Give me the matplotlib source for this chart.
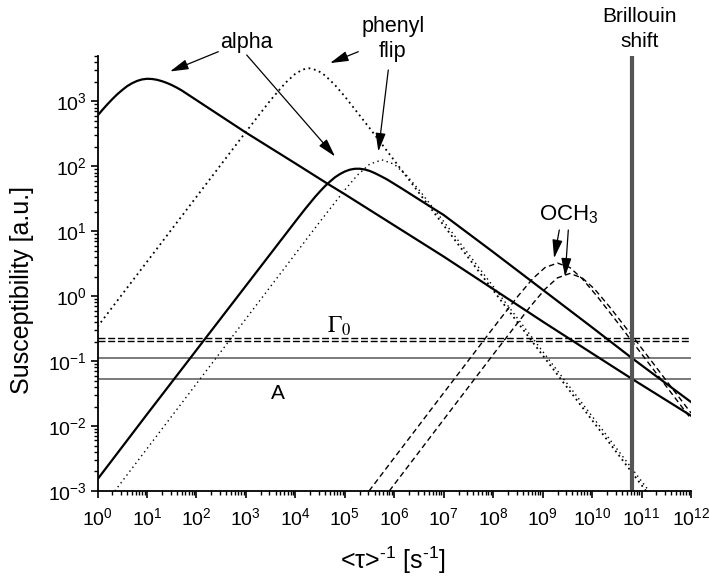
import matplotlib
matplotlib.use("Agg")
import matplotlib.pyplot as plt
import numpy as np
from matplotlib.ticker import LogLocator, NullFormatter

plt.rcParams['font.family'] = ['Liberation Sans', 'DejaVu Sans']
plt.rcParams['mathtext.fontset'] = 'custom'
plt.rcParams['mathtext.rm'] = 'Liberation Sans'
plt.rcParams['mathtext.it'] = 'Liberation Sans:italic'
plt.rcParams['mathtext.bf'] = 'Liberation Sans:bold'

# curves, as log10(rate) / log10(susceptibility)
alpha1_lx = [0, 0.1, 0.2, 0.3, 0.4, 0.5, 0.6, 0.7, 0.8, 0.9, 1.0, 1.1, 1.2, 1.3, 1.4, 1.5, 1.6, 1.7, 1.85, 2.0, 2.15, 2.31, 2.6, 3.0, 4.0, 4.635, 5, 6, 7, 8, 9, 10, 10.8, 12]
alpha1_ly = [2.78, 2.87, 2.955, 3.035, 3.11, 3.175, 3.235, 3.28, 3.315, 3.338, 3.348, 3.345, 3.333, 3.312, 3.285, 3.252, 3.213, 3.170, 3.095, 3.02, 2.945, 2.865, 2.72, 2.52, 2.045, 1.74, 1.57, 1.09, 0.61, 0.11, -0.39, -0.88, -1.27, -1.84]

alpha2_lx = [0, 1, 2, 3, 4.0, 4.2, 4.4, 4.5, 4.6, 4.7, 4.8, 4.9, 5.0, 5.1, 5.2, 5.3, 5.4, 5.5, 5.6, 5.7, 5.85, 6.0, 6.18, 6.5, 6.79, 7.0, 8, 9, 10, 10.8, 12]
alpha2_ly = [-2.82, -1.82, -0.83, 0.16, 1.15, 1.345, 1.53, 1.615, 1.695, 1.765, 1.83, 1.88, 1.92, 1.948, 1.962, 1.963, 1.952, 1.93, 1.898, 1.86, 1.80, 1.73, 1.645, 1.49, 1.35, 1.25, 0.68, 0.10, -0.48, -0.95, -1.63]

phenyl1_lx = [0, 1, 2, 3, 3.5, 3.8, 4.0, 4.15, 4.28, 4.45, 4.6, 4.8, 5.0, 5.5, 6, 7, 8, 9, 10, 11.1]
phenyl1_ly = [-0.47, 0.53, 1.53, 2.53, 3.02, 3.286, 3.425, 3.491, 3.51, 3.477, 3.40, 3.253, 3.076, 2.59, 2.091, 1.091, 0.091, -0.909, -1.909, -3.009]

phenyl2_lx = [0.35, 1, 2, 3, 4, 4.5, 5.0, 5.25, 5.5, 5.75, 6.0, 6.25, 6.5, 7, 8, 9, 10, 11.15]
phenyl2_ly = [-3.0, -2.349, -1.349, -0.349, 0.651, 1.150, 1.637, 1.860, 2.032, 2.10, 2.032, 1.860, 1.637, 1.150, 0.151, -0.849, -1.849, -2.999]

och1_lx = [5.49, 6, 7, 8, 8.5, 8.8, 9.05, 9.3, 9.55, 9.8, 10.1, 10.5, 11, 12]
och1_ly = [-3.0, -2.489, -1.489, -0.49, 0.0, 0.270, 0.442, 0.51, 0.442, 0.270, 0.0, -0.39, -0.888, -1.889]

och2_lx = [5.9, 6, 7, 8, 8.75, 9.05, 9.3, 9.55, 9.8, 10.05, 10.35, 10.85, 11.35, 12]
och2_ly = [-2.999, -2.899, -1.899, -0.899, -0.160, 0.110, 0.282, 0.35, 0.282, 0.110, -0.160, -0.649, -1.149, -1.799]

gamma0_levels = [0.225, 0.203]
a_levels = [0.113, 0.0537]
brillouin_rate = 6.3e10

W, H = 709, 584
def fx(px):
    return px / W
def fy(py):
    return (H - py) / H

fig = plt.figure(figsize=(7.09, 5.84), dpi=100)
ax = fig.add_axes([97.5 / W, (H - 491) / H, (691 - 97.5) / W, (491 - 56) / H])

def p(lx, ly, **kw):
    ax.plot(10 ** np.array(lx), 10 ** np.array(ly), **kw)

for lv in gamma0_levels:
    ax.axhline(lv, color='black', lw=1.0, ls=(0, (5, 2)))
for lv in a_levels:
    ax.axhline(lv, color='#707070', lw=1.3)

p(phenyl1_lx, phenyl1_ly, color='black', lw=1.3, ls=(0, (1, 2)))
p(phenyl2_lx, phenyl2_ly, color='black', lw=1.0, ls=(0, (1, 2.5)))
p(och1_lx, och1_ly, color='black', lw=1.0, ls=(0, (4, 2.5)))
p(och2_lx, och2_ly, color='black', lw=1.0, ls=(0, (4, 2.5)))
p(alpha1_lx, alpha1_ly, color='black', lw=1.6)
p(alpha2_lx, alpha2_ly, color='black', lw=1.6)

ax.axvline(brillouin_rate, color='#555555', lw=3)

ax.set_xscale('log')
ax.set_yscale('log')
ax.set_xlim(1, 1e12)
ax.set_ylim(1e-3, 5000)

for a in (ax.xaxis, ax.yaxis):
    a.set_major_locator(LogLocator(base=10, numticks=30))
    a.set_minor_locator(LogLocator(base=10, subs=np.arange(2, 10), numticks=30))
    a.set_minor_formatter(NullFormatter())

ax.spines['top'].set_visible(False)
ax.spines['right'].set_visible(False)
ax.spines['left'].set_linewidth(1.3)
ax.spines['bottom'].set_linewidth(1.3)
ax.tick_params(which='major', direction='out', length=5, width=1.2, labelsize=14)
ax.tick_params(axis='x', which='major', pad=7)
ax.tick_params(axis='y', which='major', pad=3)
ax.tick_params(which='minor', direction='out', length=3, width=1.0)

fig.text(fx(22), fy(290), 'Susceptibility [a.u.]', rotation=90, ha='center', va='center', fontsize=18)
fig.text(fx(393), fy(560), r'<τ>$^{\text{-}1}$ [s$^{\text{-}1}$]', ha='center', va='center', fontsize=18)

# annotations
fig.text(fx(246.7), fy(47.7), 'alpha', ha='center', va='baseline', fontsize=15.5)
fig.text(fx(392.7), fy(31.7), 'phenyl', ha='center', va='baseline', fontsize=15.5)
fig.text(fx(392.7), fy(56.7), 'flip', ha='center', va='baseline', fontsize=15.5)
fig.text(fx(640), fy(21.7), 'Brillouin', ha='center', va='baseline', fontsize=15)
fig.text(fx(640), fy(46.7), 'shift', ha='center', va='baseline', fontsize=15)
fig.text(fx(569), fy(220), 'OCH$_3$', ha='center', va='baseline', fontsize=16)
fig.text(fx(339), fy(332.7), r'$\Gamma_0$', ha='center', va='baseline', fontsize=17, math_fontfamily='stix')
fig.text(fx(277.7), fy(399), 'A', ha='center', va='baseline', fontsize=15)

arrows = [
    ((218.3, 51.7), (1.466, 3.461)),
    ((246.7, 55.0), (4.803, 2.151)),
    ((358.3, 51.7), (4.702, 3.590)),
    ((388.3, 70.0), (5.679, 2.228)),
    ((559.3, 230.0), (9.232, 0.585)),
    ((568.3, 230.0), (9.454, 0.302)),
]
for (tx, ty), (lx, ly) in arrows:
    ax.annotate('', xy=(10 ** lx, 10 ** ly), xycoords='data',
                xytext=(fx(tx), fy(ty)), textcoords='figure fraction',
                arrowprops=dict(arrowstyle='-|>,head_length=0.8,head_width=0.22',
                                color='black', lw=0.9, mutation_scale=14,
                                shrinkA=0, shrinkB=0),
                annotation_clip=False)

plt.savefig('out.png', dpi=100)
